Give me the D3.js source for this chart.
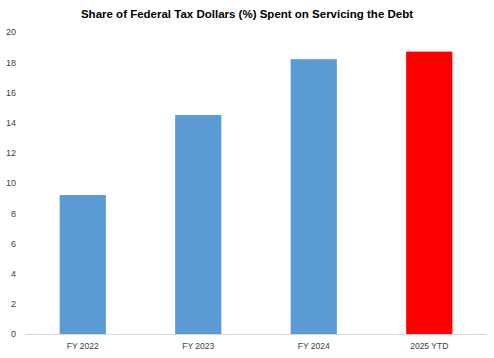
<!DOCTYPE html>
<html>
  <head>
    <title>Share of Federal Tax Dollars Spent on Servicing the Debt</title>
    <script src="https://d3js.org/d3.v7.min.js"></script>
    <style>
      body {
        margin: 0;
        background-color: white;
      }

      svg text {
        font-family: "Liberation Sans", Arial, sans-serif;
        fill: #404040;
      }

      .title {
        font-weight: bold;
        fill: #000;
      }
    </style>
  </head>
  <body>
    <script>
      const categories = ['FY 2022', 'FY 2023', 'FY 2024', '2025 YTD'];
      const values = [9.2, 14.5, 18.2, 18.7];
      const barColors = ['#5B9BD5', '#5B9BD5', '#5B9BD5', '#FF0000'];
      const yTicks = [0, 2, 4, 6, 8, 10, 12, 14, 16, 18, 20];

      const w = 494;
      const h = 358;
      const plotLeft = 25;
      const plotRight = 487;
      const plotTop = 32;
      const plotBottom = 334;

      const xScale = d3.scaleBand()
                       .domain(categories)
                       .range([plotLeft, plotRight])
                       .paddingInner(0.6)
                       .paddingOuter(0.3);

      const yScale = d3.scaleLinear()
                       .domain([0, 20])
                       .range([plotBottom, plotTop]);

      const svg = d3.select('body')
                    .append('svg')
                    .attr('width', w)
                    .attr('height', h);

      svg.append('text')
         .attr('class', 'title')
         .attr('x', 247)
         .attr('y', 18)
         .attr('text-anchor', 'middle')
         .style('font-size', '11.5px')
         .text('Share of Federal Tax Dollars (%) Spent on Servicing the Debt');

      svg.selectAll('rect')
         .data(values)
         .enter()
         .append('rect')
         .attr('x', (d, i) => xScale(categories[i]))
         .attr('y', d => yScale(d))
         .attr('width', xScale.bandwidth())
         .attr('height', d => plotBottom - yScale(d))
         .attr('fill', (d, i) => barColors[i]);

      const yAxis = d3.axisLeft(yScale)
                      .tickValues(yTicks)
                      .tickSize(0)
                      .tickPadding(0);

      svg.append('g')
         .attr('transform', `translate(16, 0)`)
         .call(yAxis)
         .call(g => g.select('.domain').remove())
         .selectAll('text')
         .style('font-size', '9px');

      const xAxis = d3.axisBottom(xScale)
                      .tickSize(0)
                      .tickPadding(9);

      svg.append('g')
         .attr('transform', `translate(0, ${plotBottom})`)
         .call(xAxis)
         .call(g => g.select('.domain')
                     .attr('stroke', '#d9d9d9')
                     .attr('d', `M${plotLeft},0.5H${plotRight}`))
         .selectAll('text')
         .style('font-size', '8.5px');
    </script>
  </body>
</html>
